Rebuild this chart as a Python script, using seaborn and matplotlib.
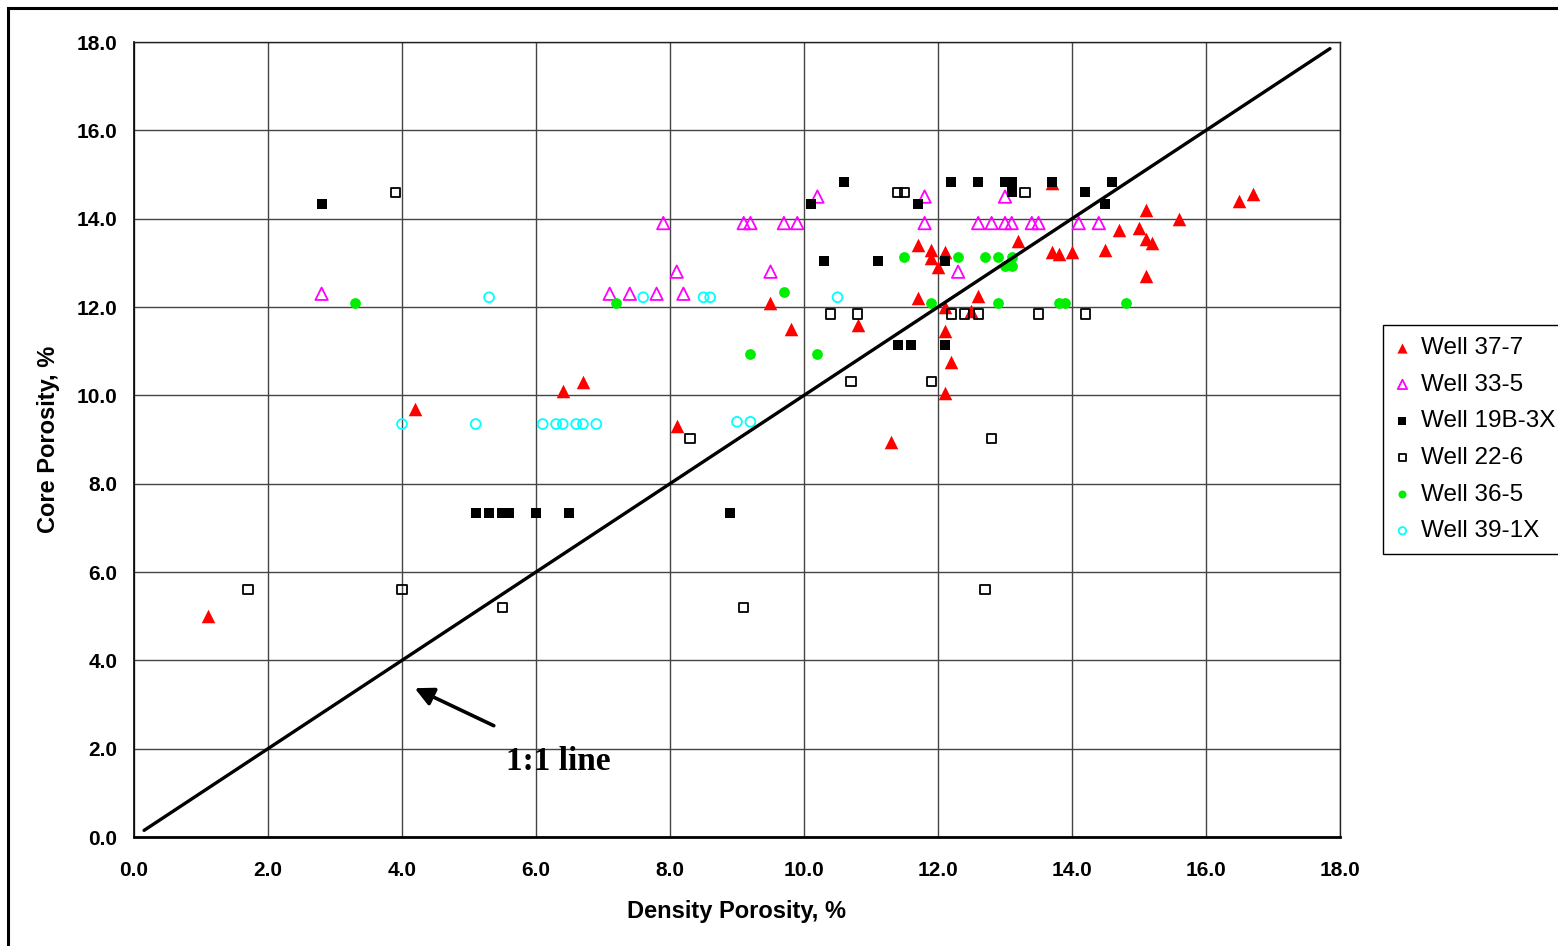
import numpy as np
import matplotlib
matplotlib.use('Agg')
import matplotlib.pyplot as plt
import seaborn as sns
from matplotlib.patches import Rectangle

# ---------------------------------------------------------------------------
# Data (density porosity, core porosity) per well
# ---------------------------------------------------------------------------
w37_7_x = [1.1, 4.2, 6.4, 6.7, 8.1, 9.5, 9.8, 10.8, 11.3, 11.7, 11.7, 11.9, 11.9, 12.0,
           12.1, 12.1, 12.1, 12.2, 12.1, 12.5, 12.6, 13.2, 13.7, 13.8, 14.0, 14.5,
           14.7, 15.0, 15.1, 15.1, 15.2, 15.1, 15.6, 16.5, 16.7, 13.7]
w37_7_y = [5.0, 9.7, 10.1, 10.3, 9.3, 12.1, 11.5, 11.6, 8.95, 13.4, 12.2, 13.3, 13.1, 12.9,
           13.25, 12.0, 11.45, 10.75, 10.05, 11.9, 12.25, 13.5, 13.25, 13.2, 13.25, 13.3,
           13.75, 13.8, 14.2, 13.55, 13.45, 12.7, 14.0, 14.4, 14.55, 14.8]

w33_5_x = [2.8, 7.1, 7.4, 7.8, 8.2, 8.1, 7.9, 9.1, 9.2, 9.7, 9.9, 9.5, 10.2, 11.8,
           11.8, 12.3, 12.6, 12.8, 13.0, 13.1, 13.0, 13.4, 13.5, 14.1, 14.4]
w33_5_y = [12.3, 12.3, 12.3, 12.3, 12.3, 12.8, 13.9, 13.9, 13.9, 13.9, 13.9, 12.8, 14.5, 14.5,
           13.9, 12.8, 13.9, 13.9, 13.9, 13.9, 14.5, 13.9, 13.9, 13.9, 13.9]

w19b_3x_x = [2.8, 5.1, 5.3, 5.5, 5.6, 6.0, 6.5, 8.9, 10.6, 10.1, 10.3, 11.1, 11.7, 12.2,
             12.6, 13.0, 13.1, 13.1, 13.7, 14.2, 12.1, 11.4, 11.6, 12.1, 14.6, 14.5]
w19b_3x_y = [14.33, 7.33, 7.33, 7.33, 7.33, 7.33, 7.33, 7.33, 14.83, 14.33, 13.04, 13.04, 14.33, 14.83,
             14.83, 14.83, 14.83, 14.6, 14.83, 14.6, 13.04, 11.14, 11.14, 11.14, 14.83, 14.33]

w22_6_x = [3.9, 1.7, 4.0, 5.5, 8.3, 9.1, 10.4, 10.8, 10.7, 11.4, 11.5, 13.3, 12.2, 12.4,
           12.6, 13.5, 14.2, 11.9, 12.8, 12.7]
w22_6_y = [14.6, 5.6, 5.6, 5.2, 9.03, 5.2, 11.84, 11.84, 10.32, 14.6, 14.6, 14.6, 11.84, 11.84,
           11.84, 11.84, 11.84, 10.32, 9.03, 5.6]

w36_5_x = [3.3, 7.2, 9.7, 9.2, 10.2, 11.5, 11.9, 12.3, 12.7, 12.9, 12.9, 13.0, 13.1, 13.1,
           13.8, 13.9, 14.8]
w36_5_y = [12.1, 12.1, 12.33, 10.93, 10.93, 13.13, 12.1, 13.13, 13.13, 13.13, 12.1, 12.93, 12.93, 13.13,
           12.1, 12.1, 12.1]

w39_1x_x = [5.3, 4.0, 5.1, 6.1, 6.3, 6.4, 6.6, 6.7, 6.9, 7.6, 8.5, 8.6, 10.5, 9.0, 9.2]
w39_1x_y = [12.22, 9.35, 9.35, 9.35, 9.35, 9.35, 9.35, 9.35, 9.35, 12.22, 12.22, 12.22, 12.22, 9.4, 9.4]

one_to_one = [0.15, 17.85]
ticks = np.arange(0, 18.1, 2.0)

# well name -> (x, y, marker, colour, filled, size)
WELLS = [
    ('Well 37-7',   w37_7_x,   w37_7_y,   '^', '#ff0000', True,  95),
    ('Well 33-5',   w33_5_x,   w33_5_y,   '^', '#ff00ff', False, 80),
    ('Well 19B-3X', w19b_3x_x, w19b_3x_y, 's', '#000000', True,  60),
    ('Well 22-6',   w22_6_x,   w22_6_y,   's', '#000000', False, 45),
    ('Well 36-5',   w36_5_x,   w36_5_y,   'o', '#00ee00', True,  60),
    ('Well 39-1X',  w39_1x_x,  w39_1x_y,  'o', '#00ffff', False, 50),
]

sns.set_theme(style="white")
plt.rcParams['font.family'] = ['Liberation Sans', 'DejaVu Sans']
plt.rcParams['text.color'] = 'black'
plt.rcParams['axes.labelcolor'] = 'black'
plt.rcParams['xtick.color'] = 'black'
plt.rcParams['ytick.color'] = 'black'

W, H = 1558, 946
fig = plt.figure(figsize=(W / 100, H / 100), dpi=100)
ax = fig.add_axes([134 / W, 1 - 837 / H, (1340 - 134) / W, (837 - 42) / H])

for name, xs, ys, mk, col, filled, size in WELLS:
    if filled:
        sns.scatterplot(x=xs, y=ys, ax=ax, marker=mk, color=col, s=size,
                        linewidth=0, label=name, zorder=3)
    else:
        sns.scatterplot(x=xs, y=ys, ax=ax, marker=mk, facecolor='none',
                        edgecolor=col, s=size, linewidth=1.3, label=name, zorder=3)

ax.plot(one_to_one, one_to_one, color='black', lw=2.4, zorder=4)

ax.annotate('', xy=(4.19, 3.37), xytext=(5.37, 2.52),
            arrowprops=dict(arrowstyle='-|>', lw=2.6, color='black', mutation_scale=28,
                            shrinkA=0, shrinkB=0), zorder=5)
ax.text(6.34, 1.72, '1:1 line', ha='center', va='center', fontsize=24, color='black',
        fontweight='bold', family=['Liberation Serif', 'DejaVu Serif'])

ax.set_xlim(0, 18)
ax.set_ylim(0, 18)
ax.set_xticks(ticks)
ax.set_yticks(ticks)
ax.set_xticklabels([f'{t:.1f}' for t in ticks], fontsize=15, fontweight='bold')
ax.set_yticklabels([f'{t:.1f}' for t in ticks], fontsize=15, fontweight='bold')
ax.tick_params(axis='both', direction='out', length=6, width=1, color='black', pad=6)
ax.tick_params(axis='x', pad=11)
ax.grid(True, color='#444444', lw=1)
ax.set_axisbelow(True)

for side in ['top', 'right']:
    ax.spines[side].set_color('#222222')
    ax.spines[side].set_linewidth(1)
ax.spines['left'].set_color('black')
ax.spines['left'].set_linewidth(1.2)
ax.spines['bottom'].set_color('black')
ax.spines['bottom'].set_linewidth(2)

ax.set_xlabel('Density Porosity, %', fontsize=17, fontweight='bold', labelpad=15)
ax.set_ylabel('Core Porosity, %', fontsize=17, fontweight='bold', labelpad=12)

ax.legend_.remove()
handles, labels = ax.get_legend_handles_labels()
leg = fig.legend(handles, labels, loc='upper left', bbox_to_anchor=(1383 / W, 1 - 325 / H),
                 fontsize=17.5, frameon=True, fancybox=False, edgecolor='black',
                 framealpha=1, markerscale=0.75, handlelength=0.6, handletextpad=0.45,
                 labelspacing=0.6, borderpad=0.5, borderaxespad=0)
leg.get_frame().set_linewidth(1)

# outer chart frame
fig.patches.append(Rectangle((8 / W, -0.05), 1.1, 1 - 8 / H + 0.05,
                             transform=fig.transFigure, fill=False,
                             edgecolor='black', lw=2.2))

fig.savefig('out.png', dpi=100)
